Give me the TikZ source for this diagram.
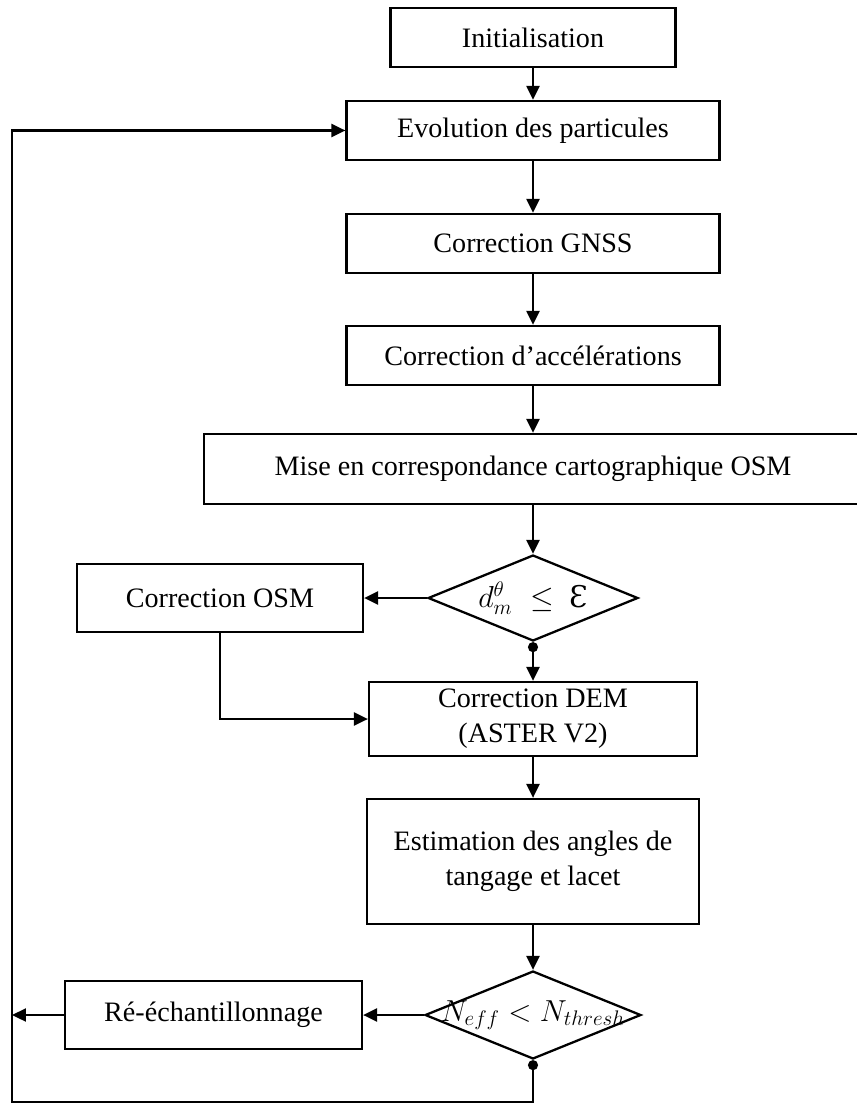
\documentclass[tikz,border=0pt]{standalone}
\usepackage{fontspec}
\setmainfont{Liberation Serif}
\newfontfamily\epsfont{DejaVu Serif}
\usepackage{tikz}
\usetikzlibrary{arrows.meta}
\usetikzlibrary{shapes.geometric}
\usetikzlibrary{positioning}

\tikzset{
  bloc/.style={draw, rectangle, align=center, inner sep=0pt},
  test/.style={draw, diamond, inner sep=0pt},
  dot/.style={{Circle[length=2mm]}->}
}

\begin{document}
\begin{tikzpicture}[x=0.02cm, y=-0.02cm, >={Triangle[length=2.8mm,width=2.6mm]},
    line width=1.3pt, font=\fontsize{16}{20}\selectfont]
\clip (0,0) rectangle (857,1104);

%chaine principale
\node[bloc, minimum width=5.7cm, minimum height=1.18cm] (init) at (533,37.5) {Initialisation};
\node[bloc, minimum width=7.46cm, minimum height=1.18cm] (evol) at (533,130.5) {Evolution des particules};
\node[bloc, minimum width=7.46cm, minimum height=1.18cm] (gnss) at (533,243.5) {Correction GNSS};
\node[bloc, minimum width=7.46cm, minimum height=1.18cm] (accel) at (533,355.5) {Correction d’accélérations};
\node[bloc, minimum width=13.16cm, minimum height=1.4cm] (mise) at (533,469) {Mise en correspondance cartographique OSM};
\node[test, minimum width=4.2cm, minimum height=1.72cm,
  label=center:{\fontsize{17}{20}\selectfont$d_m^{\theta}$\hspace{0.6em}$\leq$\hspace{0.5em}{\epsfont Ɛ}}] (test1) at (533,598) {};
\node[bloc, minimum width=5.72cm, minimum height=1.36cm] (osm) at (220,598) {Correction OSM};
\node[bloc, minimum width=6.56cm, minimum height=1.48cm] (dem) at (533,719) {Correction DEM\\(ASTER V2)};
\node[bloc, minimum width=6.64cm, minimum height=2.5cm] (estim) at (533,861.5) {Estimation des angles de\\tangage et lacet};
\node[test, minimum width=4.32cm, minimum height=1.76cm,
  label=center:{\fontsize{17}{20}\selectfont$N_{eff} < N_{thresh}$}] (test2) at (533,1015) {};
\node[bloc, minimum width=5.94cm, minimum height=1.36cm] (reech) at (213.5,1015) {Ré-échantillonnage};
\coordinate (bas) at (12,1102);

%fleches
\draw[->] (init) -- (evol);
\draw[->] (evol) -- (gnss);
\draw[->] (gnss) -- (accel);
\draw[->] (accel) -- (mise);
\draw[->] (mise.south) -- (test1.north);
\draw[->] (test1.west) -- (osm.east);
\draw[dot] (test1.south) -- (dem.north);
\draw[->] (osm.south) |- (dem.west);
\draw[->] (dem) -- (estim);
\draw[->] (estim.south) -- (test2.north);
\draw[->] (test2.west) -- (reech.east);
\draw[->] (reech.west) -- (reech.west -| bas);
\draw[dot] (test2.south) |- (bas) |- (evol.west);
\end{tikzpicture}
\end{document}
